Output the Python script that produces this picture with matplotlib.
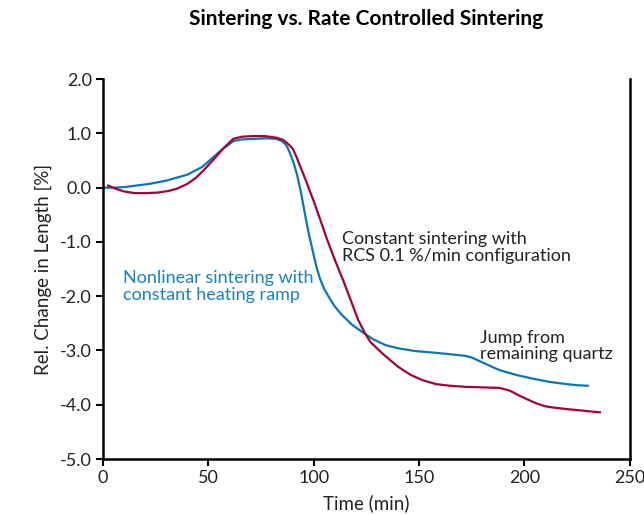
import matplotlib
matplotlib.use("Agg")
import matplotlib.pyplot as plt

plt.rcParams['font.family'] = ['Lato', 'DejaVu Sans']

# Nonlinear sintering (constant heating ramp)
t_blue = [0, 5, 10, 22, 30, 40, 47, 52, 57, 62, 66, 72, 78, 82, 85, 87, 88.7, 90.5, 92, 94, 95.8, 97.5, 99.6, 101.4,
          103, 105, 107.7, 110, 113, 118, 123, 128, 134, 140, 148, 157, 165, 172, 175, 180, 188, 196, 204, 212, 220, 225, 230]
y_blue = [0.0, 0.0, 0.01, 0.07, 0.13, 0.24, 0.38, 0.55, 0.72, 0.86, 0.89, 0.9, 0.91, 0.9, 0.86, 0.78, 0.64, 0.45, 0.25, -0.1, -0.48, -0.82, -1.18, -1.48,
          -1.68, -1.87, -2.05, -2.19, -2.33, -2.52, -2.66, -2.79, -2.9, -2.96, -3.01, -3.04, -3.07, -3.1, -3.13, -3.22, -3.36, -3.45, -3.52, -3.58, -3.62, -3.64, -3.65]

# RCS 0.1 %/min
t_red = [2.4, 6, 10, 15, 20.8, 26, 31, 35, 40, 44, 47.5, 52, 57, 61.8, 66, 71, 77, 82.5, 85.5, 88, 90, 92, 94, 96.6, 98,
         100, 103, 106, 110, 114, 118, 121, 124, 127, 133, 140, 146, 151.8, 158, 164.6, 172, 180, 188.3, 193, 198, 203, 206, 210, 213.5, 220, 228, 235.8]
y_red = [0.04, -0.02, -0.07, -0.1, -0.1, -0.09, -0.06, -0.02, 0.07, 0.18, 0.31, 0.5, 0.72, 0.9, 0.94, 0.95, 0.95, 0.92, 0.88, 0.8, 0.72, 0.55, 0.35, 0.1, -0.05,
         -0.25, -0.58, -0.92, -1.33, -1.71, -2.12, -2.43, -2.66, -2.85, -3.07, -3.3, -3.45, -3.55, -3.62, -3.65, -3.67, -3.68, -3.69, -3.74, -3.84, -3.93, -3.98, -4.03, -4.05, -4.08, -4.11, -4.14]

blue = '#0a77b5'
red = '#a5003a'

fig = plt.figure(figsize=(6.44, 5.14), dpi=100)
ax = fig.add_axes([0.16, 0.107, 0.818, 0.739])

ax.plot(t_blue, y_blue, color=blue, lw=1.6)
ax.plot(t_red, y_red, color=red, lw=1.6)

ax.set_xlim(0, 250)
ax.set_ylim(-5, 2)
ax.set_xticks([0, 50, 100, 150, 200, 250])
ax.set_yticks([-5, -4, -3, -2, -1, 0, 1, 2])
ax.set_yticklabels(['%.1f' % v for v in [-5, -4, -3, -2, -1, 0, 1, 2]])
ax.spines['top'].set_visible(False)
for s in ['left', 'bottom', 'right']:
    ax.spines[s].set_linewidth(1.8)
ax.tick_params(axis='both', direction='out', length=5, width=1.5, labelsize=13, colors='black',
               labelcolor='#222222', pad=3)

ax.set_xlabel('Time (min)', fontsize=13.5, color='#222222', labelpad=6)
ax.set_ylabel('Rel. Change in Length [%]', fontsize=13.5, color='#222222', labelpad=6)

fig.text(0.569, 0.963, 'Sintering vs. Rate Controlled Sintering', ha='center', va='center',
         fontsize=15, fontweight='bold', color='black')

ax.text(9.5, -1.82, 'Nonlinear sintering with\nconstant heating ramp', color='#1a82c0', fontsize=13,
        va='center', ha='left', linespacing=1.05)
ax.text(113.5, -1.1, 'Constant sintering with\nRCS 0.1 %/min configuration', color='#222222', fontsize=13,
        va='center', ha='left', linespacing=1.05)
ax.text(179, -2.92, 'Jump from\nremaining quartz', color='#222222', fontsize=13,
        va='center', ha='left', linespacing=1.05)

fig.savefig('out.png', dpi=100)
